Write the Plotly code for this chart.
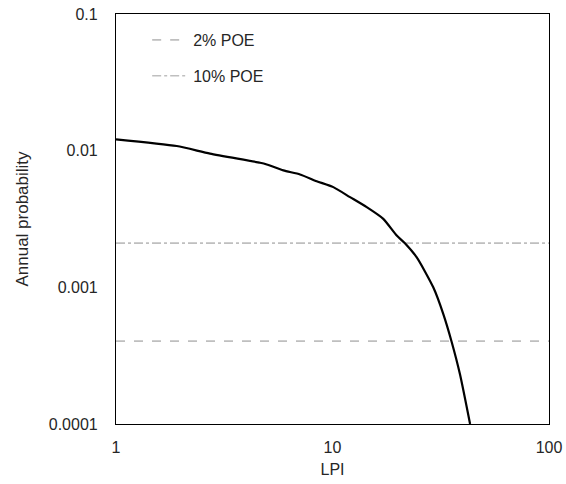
import plotly.graph_objects as go

lpi = [1.0, 1.907, 2.718, 4.63, 4.97, 5.93, 7.08, 8.45, 10.09, 12.05, 14.39, 17.16,
       19.80, 21.6, 24.5, 29.2, 32.5, 35.5, 38.8, 43.2]
prob = [0.01211, 0.01081, 0.00951, 0.00816, 0.00793, 0.00717, 0.00670, 0.00598,
        0.00541, 0.00457, 0.00386, 0.00317, 0.00239, 0.0021, 0.001656, 0.001,
        0.000637, 0.0004, 0.000231, 0.0001]

poe_names = ["2% POE", "10% POE"]
poe_values = [0.000404, 0.002105]
poe_dash = ["dash", "dashdot"]

x_ticks = [1, 10, 100]
x_ticklabels = ["1", "10", "100"]
y_ticks = [0.0001, 0.001, 0.01, 0.1]
y_ticklabels = ["0.0001", "0.001", "0.01", "0.1"]

fig = go.Figure()
for i, (name, val, dash) in enumerate(zip(poe_names, poe_values, poe_dash)):
    fig.add_trace(go.Scatter(
        x=[1, 100], y=[val, val], mode="lines", name=name,
        legendgroup=f"g{i}",
        line=dict(color="#BFBFBF", width=1.6, dash=dash),
    ))
fig.add_trace(go.Scatter(
    x=lpi, y=prob, mode="lines", name="LPI curve", showlegend=False,
    line=dict(color="black", width=2.2, shape="spline", smoothing=0.6),
))

txt = "#262626"
font = dict(family="Liberation Sans, Arial, sans-serif", size=16, color=txt)
fig.update_layout(
    width=566, height=484,
    margin=dict(l=116, r=17, t=14, b=60, autoexpand=False),
    paper_bgcolor="white", plot_bgcolor="white",
    font=font,
    showlegend=True,
    legend=dict(x=0.072, y=0.978, xanchor="left", yanchor="top",
                bgcolor="rgba(0,0,0,0)", tracegroupgap=12, itemwidth=36,
                font=dict(size=16, color=txt)),
    xaxis=dict(type="log", range=[0, 2], tickvals=x_ticks, ticktext=x_ticklabels,
               showgrid=False, zeroline=False, showline=True, linecolor="black",
               linewidth=1.2, mirror=True, ticks="outside", ticklen=9,
               tickcolor="rgba(0,0,0,0)", automargin=False,
               tickfont=dict(size=16, color=txt),
               title=dict(text="LPI", standoff=8, font=dict(size=16, color=txt))),
    yaxis=dict(type="log", range=[-4, -1], tickvals=y_ticks, ticktext=y_ticklabels,
               showgrid=False, zeroline=False, showline=True, linecolor="black",
               linewidth=1.2, mirror=True, ticks="outside", ticklen=14,
               tickcolor="rgba(0,0,0,0)", automargin=False,
               tickfont=dict(size=16, color=txt),
               title=dict(text="Annual probability", standoff=15,
                          font=dict(size=17, color=txt))),
)

fig.write_html("out.html", config={"displayModeBar": False},
               post_script="document.body.style.margin='0';")
